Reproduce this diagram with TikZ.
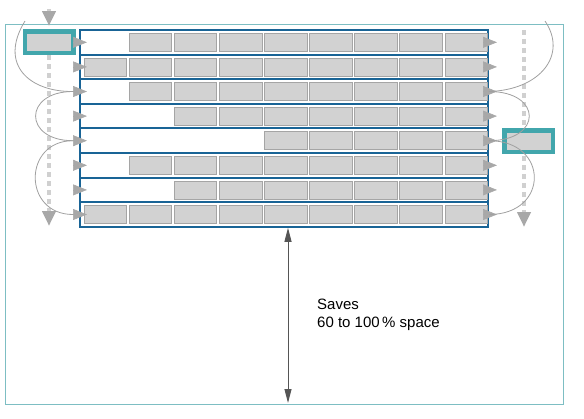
\documentclass[tikz,border=0pt]{standalone}
\usepackage{fontspec}
\setmainfont{Liberation Sans}
\usetikzlibrary{arrows.meta}

\definecolor{rackblue}{RGB}{25,100,150}
\definecolor{shuttleteal}{RGB}{66,166,172}
\definecolor{framecyan}{RGB}{125,190,195}
\definecolor{boxgray}{RGB}{210,210,210}
\definecolor{boxedge}{RGB}{165,165,165}
\definecolor{trackgray}{RGB}{160,160,160}
\definecolor{dashgray}{RGB}{208,208,208}
\definecolor{tipgray}{RGB}{168,168,168}
\definecolor{spacegray}{RGB}{85,85,85}

\tikzset{rackrow/.style={draw=rackblue, line width=2pt, minimum width=408pt, minimum height=24.6pt, inner sep=0pt}}
\tikzset{ pallet/.style={draw=boxedge, fill=boxgray, line width=0.6pt, minimum width=42.5pt, minimum height=18pt, inner sep=0pt}}
\tikzset{ shuttle/.style={draw=shuttleteal, fill=boxgray, line width=4.5pt, minimum width=48.5pt, minimum height=21.5pt, inner sep=0pt}}
\tikzset{ track/.style={draw=trackgray, line width=0.8pt}}
\tikzset{ rowtip/.style={-{Triangle[length=14pt,width=11pt]}, tipgray, line width=0.5pt}}
\tikzset{ lane/.style={dashgray, line width=4.5pt, dash pattern=on 5pt off 4pt, -{Triangle[length=15pt,width=13pt,color=tipgray]}}}
\tikzset{ spacearrow/.style={{Triangle[length=14pt,width=7pt]}-{Triangle[length=14pt,width=7pt]}, spacegray, line width=1pt}}

\begin{document}
\begin{tikzpicture}[x=1pt,y=-1pt]
  \useasboundingbox (0,0) rectangle (584,418);
  \draw[framecyan, line width=0.8pt] (5,24) rectangle (563,404);

  % lanes of the two shuttles
  \coordinate (LaneInL) at (49,9);
  \coordinate (LaneEndL) at (49,226);
  \coordinate (LaneTopR) at (524,30);
  \coordinate (LaneEndR) at (524,227);
  \node[shuttle] (ShuttleL) at (49,42) {};
  \draw[lane, shorten >=3pt] (LaneInL) -- (ShuttleL.north);
  \draw[lane] (ShuttleL.south) -- (LaneEndL);
  \draw[lane] (LaneTopR) -- (LaneEndR);
  \node[shuttle] (ShuttleR) at (528.5,141) {};

  % racks
  \foreach \r/\first in {1/2,2/1,3/2,4/3,5/5,6/2,7/3,8/1} {
    \node[rackrow] (Row\r) at (284,{30+24.6*(\r-0.5)}) {};
    \foreach \c in {\first,...,9}
      \node[pallet] (Pallet\r\c) at ({105.25+45.1*(\c-1)},{30+24.6*(\r-0.5)}) {};
    \coordinate (RowIn\r) at ([xshift=-6pt]Row\r.west);
    \coordinate (RowOut\r) at (Row\r.east);
    \draw[rowtip] (RowIn\r) -- ([xshift=8pt]Row\r.west);
    \draw[rowtip] ([xshift=-6pt]Row\r.east) -- ([xshift=8pt]Row\r.east);
  }

  \coordinate (TrackInL) at (25,21);
  \coordinate (TrackInR) at (545,21);
  \draw[track] (TrackInL) .. controls (-2,65) and (30,92) .. (RowIn3);
  \draw[track] (RowIn3) to[out=180,in=180,looseness=2.6] (RowIn5);
  \draw[track] (RowIn5) to[out=180,in=180,looseness=1.75] (RowIn8);
  \draw[track] (TrackInR) .. controls (568,55) and (540,90) .. (RowOut3);
  \draw[track] (RowOut3) to[out=0,in=0,looseness=2.8] (RowOut5);
  \draw[track] (RowOut5) to[out=0,in=0,looseness=2.1] (RowOut8);

  \coordinate (SpaceTop) at ([xshift=4pt]Row8.south);
  \coordinate (SpaceBottom) at (288,403);
  \draw[spacearrow] (SpaceTop) -- (SpaceBottom);
  \node[anchor=north west, align=left, inner sep=0pt, font=\fontsize{15}{18}\selectfont] (SavesNote) at (317,299) {Saves\\60 to 100\,\% space};
\end{tikzpicture}
\end{document}
